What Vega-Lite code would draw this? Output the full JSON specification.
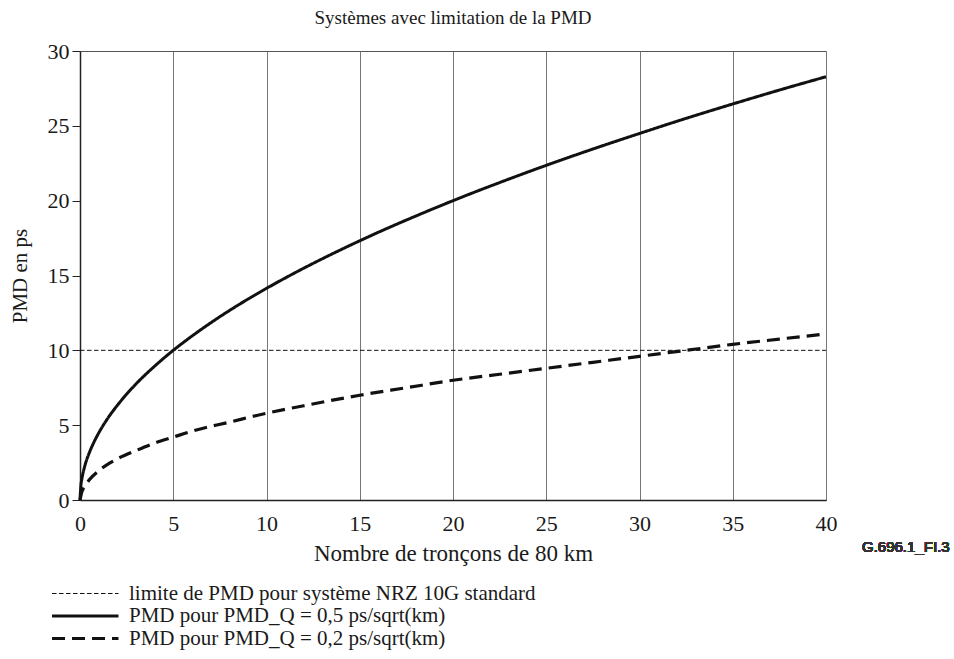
{
  "$schema": "https://vega.github.io/schema/vega-lite/v6.json",
  "autosize": {"type": "none"},
  "padding": {"left": 80, "top": 51, "right": 128, "bottom": 159},
  "width": 746,
  "height": 449,
  "background": "white",
  "config": {
    "font": "Liberation Serif",
    "view": {"stroke": "#555", "strokeWidth": 1},
    "axis": {"labelFont": "Liberation Serif", "titleFont": "Liberation Serif", "labelColor": "#1a1a1a", "titleColor": "#1a1a1a", "titleFontWeight": "normal"}
  },
  "title": {"text": "Systèmes avec limitation de la PMD", "font": "Liberation Serif", "fontSize": 19, "fontWeight": "normal", "color": "#1a1a1a", "offset": 12, "anchor": "middle"},
  "data": {"values": [
    {"n": 0, "pmd": 10, "serie": "limite de PMD pour système NRZ 10G standard"},
    {"n": 40, "pmd": 10, "serie": "limite de PMD pour système NRZ 10G standard"},
    {"n": 0, "pmd": 0, "serie": "PMD pour PMD_Q = 0,5 ps/sqrt(km)"},
    {"n": 0.05, "pmd": 1.0, "serie": "PMD pour PMD_Q = 0,5 ps/sqrt(km)"},
    {"n": 0.1, "pmd": 1.41, "serie": "PMD pour PMD_Q = 0,5 ps/sqrt(km)"},
    {"n": 0.25, "pmd": 2.24, "serie": "PMD pour PMD_Q = 0,5 ps/sqrt(km)"},
    {"n": 0.5, "pmd": 3.16, "serie": "PMD pour PMD_Q = 0,5 ps/sqrt(km)"},
    {"n": 0.75, "pmd": 3.87, "serie": "PMD pour PMD_Q = 0,5 ps/sqrt(km)"},
    {"n": 1, "pmd": 4.47, "serie": "PMD pour PMD_Q = 0,5 ps/sqrt(km)"},
    {"n": 1.5, "pmd": 5.48, "serie": "PMD pour PMD_Q = 0,5 ps/sqrt(km)"},
    {"n": 2, "pmd": 6.32, "serie": "PMD pour PMD_Q = 0,5 ps/sqrt(km)"},
    {"n": 3, "pmd": 7.75, "serie": "PMD pour PMD_Q = 0,5 ps/sqrt(km)"},
    {"n": 4, "pmd": 8.94, "serie": "PMD pour PMD_Q = 0,5 ps/sqrt(km)"},
    {"n": 5, "pmd": 10.0, "serie": "PMD pour PMD_Q = 0,5 ps/sqrt(km)"},
    {"n": 6, "pmd": 10.95, "serie": "PMD pour PMD_Q = 0,5 ps/sqrt(km)"},
    {"n": 7, "pmd": 11.83, "serie": "PMD pour PMD_Q = 0,5 ps/sqrt(km)"},
    {"n": 8, "pmd": 12.65, "serie": "PMD pour PMD_Q = 0,5 ps/sqrt(km)"},
    {"n": 10, "pmd": 14.14, "serie": "PMD pour PMD_Q = 0,5 ps/sqrt(km)"},
    {"n": 12, "pmd": 15.49, "serie": "PMD pour PMD_Q = 0,5 ps/sqrt(km)"},
    {"n": 14, "pmd": 16.73, "serie": "PMD pour PMD_Q = 0,5 ps/sqrt(km)"},
    {"n": 16, "pmd": 17.89, "serie": "PMD pour PMD_Q = 0,5 ps/sqrt(km)"},
    {"n": 18, "pmd": 18.97, "serie": "PMD pour PMD_Q = 0,5 ps/sqrt(km)"},
    {"n": 20, "pmd": 20.0, "serie": "PMD pour PMD_Q = 0,5 ps/sqrt(km)"},
    {"n": 22.5, "pmd": 21.21, "serie": "PMD pour PMD_Q = 0,5 ps/sqrt(km)"},
    {"n": 25, "pmd": 22.36, "serie": "PMD pour PMD_Q = 0,5 ps/sqrt(km)"},
    {"n": 27.5, "pmd": 23.45, "serie": "PMD pour PMD_Q = 0,5 ps/sqrt(km)"},
    {"n": 30, "pmd": 24.49, "serie": "PMD pour PMD_Q = 0,5 ps/sqrt(km)"},
    {"n": 32.5, "pmd": 25.5, "serie": "PMD pour PMD_Q = 0,5 ps/sqrt(km)"},
    {"n": 35, "pmd": 26.46, "serie": "PMD pour PMD_Q = 0,5 ps/sqrt(km)"},
    {"n": 37.5, "pmd": 27.39, "serie": "PMD pour PMD_Q = 0,5 ps/sqrt(km)"},
    {"n": 40, "pmd": 28.28, "serie": "PMD pour PMD_Q = 0,5 ps/sqrt(km)"},
    {"n": 0, "pmd": 0, "serie": "PMD pour PMD_Q = 0,2 ps/sqrt(km)"},
    {"n": 0.1, "pmd": 0.55, "serie": "PMD pour PMD_Q = 0,2 ps/sqrt(km)"},
    {"n": 0.25, "pmd": 0.9, "serie": "PMD pour PMD_Q = 0,2 ps/sqrt(km)"},
    {"n": 0.5, "pmd": 1.35, "serie": "PMD pour PMD_Q = 0,2 ps/sqrt(km)"},
    {"n": 1, "pmd": 1.95, "serie": "PMD pour PMD_Q = 0,2 ps/sqrt(km)"},
    {"n": 1.5, "pmd": 2.4, "serie": "PMD pour PMD_Q = 0,2 ps/sqrt(km)"},
    {"n": 2, "pmd": 2.75, "serie": "PMD pour PMD_Q = 0,2 ps/sqrt(km)"},
    {"n": 3, "pmd": 3.3, "serie": "PMD pour PMD_Q = 0,2 ps/sqrt(km)"},
    {"n": 4, "pmd": 3.8, "serie": "PMD pour PMD_Q = 0,2 ps/sqrt(km)"},
    {"n": 5, "pmd": 4.2, "serie": "PMD pour PMD_Q = 0,2 ps/sqrt(km)"},
    {"n": 6, "pmd": 4.6, "serie": "PMD pour PMD_Q = 0,2 ps/sqrt(km)"},
    {"n": 8, "pmd": 5.2, "serie": "PMD pour PMD_Q = 0,2 ps/sqrt(km)"},
    {"n": 10, "pmd": 5.8, "serie": "PMD pour PMD_Q = 0,2 ps/sqrt(km)"},
    {"n": 12, "pmd": 6.3, "serie": "PMD pour PMD_Q = 0,2 ps/sqrt(km)"},
    {"n": 15, "pmd": 7.0, "serie": "PMD pour PMD_Q = 0,2 ps/sqrt(km)"},
    {"n": 17.5, "pmd": 7.5, "serie": "PMD pour PMD_Q = 0,2 ps/sqrt(km)"},
    {"n": 20, "pmd": 8.0, "serie": "PMD pour PMD_Q = 0,2 ps/sqrt(km)"},
    {"n": 22.5, "pmd": 8.4, "serie": "PMD pour PMD_Q = 0,2 ps/sqrt(km)"},
    {"n": 25, "pmd": 8.8, "serie": "PMD pour PMD_Q = 0,2 ps/sqrt(km)"},
    {"n": 27.5, "pmd": 9.2, "serie": "PMD pour PMD_Q = 0,2 ps/sqrt(km)"},
    {"n": 30, "pmd": 9.6, "serie": "PMD pour PMD_Q = 0,2 ps/sqrt(km)"},
    {"n": 32.5, "pmd": 10.0, "serie": "PMD pour PMD_Q = 0,2 ps/sqrt(km)"},
    {"n": 35, "pmd": 10.4, "serie": "PMD pour PMD_Q = 0,2 ps/sqrt(km)"},
    {"n": 37.5, "pmd": 10.75, "serie": "PMD pour PMD_Q = 0,2 ps/sqrt(km)"},
    {"n": 40, "pmd": 11.1, "serie": "PMD pour PMD_Q = 0,2 ps/sqrt(km)"}
  ]},
  "layer": [
    {
      "mark": {"type": "line", "color": "#111", "interpolate": "monotone"},
      "encoding": {
        "x": {"field": "n", "type": "quantitative", "scale": {"domain": [0, 40], "nice": false},
          "axis": {"values": [0, 5, 10, 15, 20, 25, 30, 35, 40], "title": "Nombre de tronçons de 80 km", "grid": true, "gridColor": "#777", "gridWidth": 1, "ticks": false, "domainColor": "#222", "domainWidth": 1.5, "labelFont": "Liberation Serif", "labelFontSize": 22, "labelPadding": 13, "titleFont": "Liberation Serif", "titleFontSize": 23, "titlePadding": 8, "labelFlush": false}},
        "y": {"field": "pmd", "type": "quantitative", "scale": {"domain": [0, 30], "nice": false},
          "axis": {"values": [0, 5, 10, 15, 20, 25, 30], "title": "PMD en ps", "grid": false, "ticks": true, "tickSize": 8, "tickColor": "#222", "domainColor": "#222", "domainWidth": 1.5, "labelFont": "Liberation Serif", "labelFontSize": 22, "labelPadding": 3, "titleFont": "Liberation Serif", "titleFontSize": 21, "titlePadding": 17, "labelFlush": false}},
        "detail": {"field": "serie"},
        "strokeDash": {"field": "serie", "type": "nominal",
          "scale": {"domain": ["limite de PMD pour système NRZ 10G standard", "PMD pour PMD_Q = 0,5 ps/sqrt(km)", "PMD pour PMD_Q = 0,2 ps/sqrt(km)"], "range": [[4.5, 2.5], [1, 0], [13, 7]]},
          "legend": {"title": null, "orient": "none", "legendX": -30, "legendY": 532, "padding": 0, "symbolType": "M-1,0H6", "symbolSize": 361, "symbolStrokeColor": "#111", "symbolFillColor": "transparent", "labelFont": "Liberation Serif", "labelFontSize": 21, "labelColor": "#1a1a1a", "labelOffset": 56, "rowPadding": 1, "labelLimit": 700}},
        "strokeWidth": {"field": "serie", "type": "nominal",
          "scale": {"type": "ordinal", "domain": ["limite de PMD pour système NRZ 10G standard", "PMD pour PMD_Q = 0,5 ps/sqrt(km)", "PMD pour PMD_Q = 0,2 ps/sqrt(km)"], "range": [1, 3, 3.2]},
          "legend": {"title": null, "orient": "none", "legendX": -30, "legendY": 532, "padding": 0, "symbolType": "M-1,0H6", "symbolSize": 361, "symbolStrokeColor": "#111", "symbolFillColor": "transparent", "labelFont": "Liberation Serif", "labelFontSize": 21, "labelColor": "#1a1a1a", "labelOffset": 56, "rowPadding": 1, "labelLimit": 700}}
      }
    },
    {
      "mark": {"type": "text", "font": "Liberation Sans", "fontSize": 15, "fontWeight": "normal", "color": "#333", "align": "left", "baseline": "middle", "dx": 36, "dy": 47},
      "encoding": {
        "x": {"datum": 40},
        "y": {"datum": 0},
        "text": {"value": "G.696.1_FI.3"}
      }
    }
  ]
}
